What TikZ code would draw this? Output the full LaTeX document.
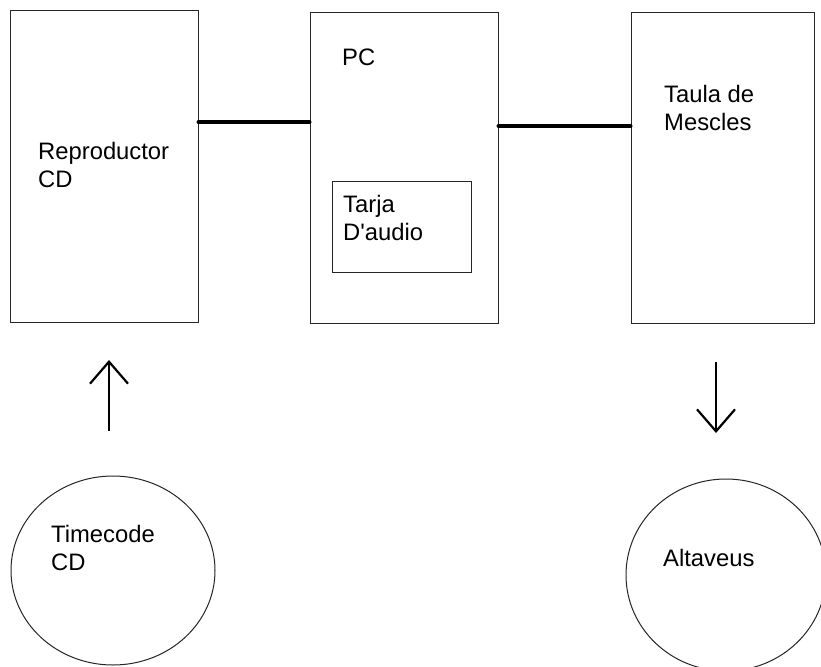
\documentclass[tikz,border=0pt]{standalone}
\usepackage{fontspec}
\setmainfont{Liberation Sans}
\usetikzlibrary{shapes.geometric,arrows.meta}
\begin{document}
\begin{tikzpicture}[x=1pt,y=-1pt,
  box/.style={draw=black!85,line width=1pt,rectangle,inner sep=0pt},
  disc/.style={draw=black!85,line width=1pt,ellipse,inner sep=0pt},
  lbl/.style={anchor=base west,inner sep=0pt,align=left,font=\fontsize{23.8}{28}\selectfont},
  link/.style={line width=4pt,line cap=round},
  flow/.style={line width=2.2pt,-{Straight Barb[length=22pt,width=38pt,line width=2.2pt]}}]
\useasboundingbox[fill=white] (0,0) rectangle (821,666);
% boxes
\node[box,minimum width=188pt,minimum height=311pt] (rep) at (104,166.5) {};
\node[box,minimum width=188pt,minimum height=310pt] (pc) at (404,168) {};
\node[box,minimum width=139pt,minimum height=91pt] (tarja) at (401.5,226.5) {};
\node[box,minimum width=183pt,minimum height=310pt] (taula) at (722.5,168) {};
% ellipses
\node[disc,minimum width=204pt,minimum height=189pt] (tc) at (113,570.5) {};
\node[disc,minimum width=200pt,minimum height=192pt] (alt) at (726,575) {};
% labels (anchor at baseline of last line)
\node[lbl] (trep) at (38,187) {Reproductor\\CD};
\node[lbl] (tpc) at (342,66) {PC};
\node[lbl] (ttarja) at (343,240) {Tarja\\D\textquotesingle audio};
\node[lbl] (ttaula) at (664,130) {Taula de\\Mescles};
\node[lbl] (ttc) at (51,570) {Timecode\\CD};
\node[lbl] (talt) at (663,566) {Altaveus};
% connectors
\coordinate (y1) at (0,122);
\coordinate (y2) at (0,126);
\draw[link] (rep.east |- y1) -- (pc.west |- y1);
\draw[link] (pc.east |- y2) -- (taula.west |- y2);
% arrows
\coordinate (a1s) at (109,431);
\coordinate (a1e) at (109,360);
\coordinate (a2s) at (716,362);
\coordinate (a2e) at (716,433);
\draw[flow] (a1s) -- (a1e);
\draw[flow] (a2s) -- (a2e);
\end{tikzpicture}
\end{document}
